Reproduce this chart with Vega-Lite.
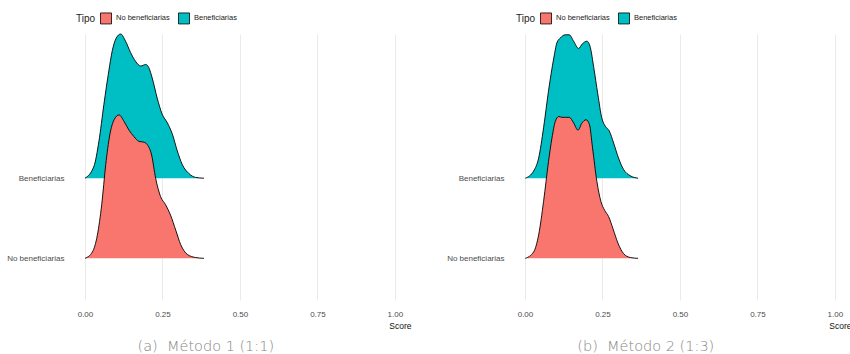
{
  "$schema": "https://vega.github.io/schema/vega-lite/v6.json",
  "padding": {"left": 6, "top": 12, "right": 0, "bottom": 0},
  "background": "white",
  "spacing": 35,
  "config": {
    "view": {"stroke": null},
    "font": "Liberation Sans",
    "axis": {
      "domain": false,
      "ticks": false,
      "gridColor": "#ebebeb",
      "gridWidth": 1,
      "labelColor": "#4d4d4d",
      "labelFontSize": 8,
      "labelFont": "Liberation Sans"
    },
    "legend": {
      "orient": "none",
      "legendX": 9,
      "legendY": -22,
      "direction": "horizontal",
      "titleOrient": "left",
      "titleFontSize": 10,
      "titleFontWeight": "normal",
      "titleColor": "#222222",
      "titlePadding": 4,
      "labelFontSize": 7.5,
      "labelColor": "#222222",
      "labelOffset": 4,
      "columnPadding": 6,
      "symbolType": "square",
      "symbolSize": 121,
      "symbolStrokeColor": "black",
      "symbolStrokeWidth": 0.8,
      "symbolOpacity": 1
    },
    "title": {
      "orient": "bottom",
      "anchor": "middle",
      "frame": "bounds",
      "font": "DejaVu Sans",
      "fontSize": 14.5,
      "fontWeight": 200,
      "color": "#858585",
      "offset": 10,
      "dx": -3
    }
  },
  "datasets": {
    "metodo1": [
      {"tipo": "Beneficiarias", "score": 0.0, "h": 0.0},
      {"tipo": "Beneficiarias", "score": 0.029, "h": 0.15},
      {"tipo": "Beneficiarias", "score": 0.045, "h": 0.46},
      {"tipo": "Beneficiarias", "score": 0.061, "h": 0.92},
      {"tipo": "Beneficiarias", "score": 0.077, "h": 1.34},
      {"tipo": "Beneficiarias", "score": 0.088, "h": 1.59},
      {"tipo": "Beneficiarias", "score": 0.101, "h": 1.75},
      {"tipo": "Beneficiarias", "score": 0.115, "h": 1.8},
      {"tipo": "Beneficiarias", "score": 0.131, "h": 1.71},
      {"tipo": "Beneficiarias", "score": 0.147, "h": 1.57},
      {"tipo": "Beneficiarias", "score": 0.163, "h": 1.46},
      {"tipo": "Beneficiarias", "score": 0.18, "h": 1.4},
      {"tipo": "Beneficiarias", "score": 0.196, "h": 1.42},
      {"tipo": "Beneficiarias", "score": 0.206, "h": 1.38},
      {"tipo": "Beneficiarias", "score": 0.217, "h": 1.25},
      {"tipo": "Beneficiarias", "score": 0.233, "h": 1.0},
      {"tipo": "Beneficiarias", "score": 0.249, "h": 0.8},
      {"tipo": "Beneficiarias", "score": 0.266, "h": 0.69},
      {"tipo": "Beneficiarias", "score": 0.282, "h": 0.55},
      {"tipo": "Beneficiarias", "score": 0.298, "h": 0.34},
      {"tipo": "Beneficiarias", "score": 0.314, "h": 0.17},
      {"tipo": "Beneficiarias", "score": 0.335, "h": 0.06},
      {"tipo": "Beneficiarias", "score": 0.357, "h": 0.01},
      {"tipo": "Beneficiarias", "score": 0.384, "h": 0.0},
      {"tipo": "No beneficiarias", "score": 0.0, "h": 0.0},
      {"tipo": "No beneficiarias", "score": 0.024, "h": 0.08},
      {"tipo": "No beneficiarias", "score": 0.04, "h": 0.29},
      {"tipo": "No beneficiarias", "score": 0.054, "h": 0.67},
      {"tipo": "No beneficiarias", "score": 0.067, "h": 1.17},
      {"tipo": "No beneficiarias", "score": 0.08, "h": 1.54},
      {"tipo": "No beneficiarias", "score": 0.094, "h": 1.73},
      {"tipo": "No beneficiarias", "score": 0.11, "h": 1.79},
      {"tipo": "No beneficiarias", "score": 0.126, "h": 1.71},
      {"tipo": "No beneficiarias", "score": 0.142, "h": 1.6},
      {"tipo": "No beneficiarias", "score": 0.158, "h": 1.52},
      {"tipo": "No beneficiarias", "score": 0.174, "h": 1.46},
      {"tipo": "No beneficiarias", "score": 0.19, "h": 1.45},
      {"tipo": "No beneficiarias", "score": 0.201, "h": 1.42},
      {"tipo": "No beneficiarias", "score": 0.215, "h": 1.29},
      {"tipo": "No beneficiarias", "score": 0.228, "h": 1.0},
      {"tipo": "No beneficiarias", "score": 0.244, "h": 0.77},
      {"tipo": "No beneficiarias", "score": 0.26, "h": 0.67},
      {"tipo": "No beneficiarias", "score": 0.276, "h": 0.54},
      {"tipo": "No beneficiarias", "score": 0.293, "h": 0.35},
      {"tipo": "No beneficiarias", "score": 0.309, "h": 0.17},
      {"tipo": "No beneficiarias", "score": 0.33, "h": 0.05},
      {"tipo": "No beneficiarias", "score": 0.357, "h": 0.01},
      {"tipo": "No beneficiarias", "score": 0.384, "h": 0.0}
    ],
    "metodo2": [
      {"tipo": "Beneficiarias", "score": 0.001, "h": 0.0},
      {"tipo": "Beneficiarias", "score": 0.028, "h": 0.09},
      {"tipo": "Beneficiarias", "score": 0.044, "h": 0.25},
      {"tipo": "Beneficiarias", "score": 0.06, "h": 0.63},
      {"tipo": "Beneficiarias", "score": 0.076, "h": 1.09},
      {"tipo": "Beneficiarias", "score": 0.093, "h": 1.5},
      {"tipo": "Beneficiarias", "score": 0.103, "h": 1.69},
      {"tipo": "Beneficiarias", "score": 0.114, "h": 1.75},
      {"tipo": "Beneficiarias", "score": 0.13, "h": 1.79},
      {"tipo": "Beneficiarias", "score": 0.143, "h": 1.79},
      {"tipo": "Beneficiarias", "score": 0.157, "h": 1.71},
      {"tipo": "Beneficiarias", "score": 0.173, "h": 1.62},
      {"tipo": "Beneficiarias", "score": 0.186, "h": 1.68},
      {"tipo": "Beneficiarias", "score": 0.2, "h": 1.71},
      {"tipo": "Beneficiarias", "score": 0.211, "h": 1.63},
      {"tipo": "Beneficiarias", "score": 0.222, "h": 1.38},
      {"tipo": "Beneficiarias", "score": 0.235, "h": 1.05},
      {"tipo": "Beneficiarias", "score": 0.248, "h": 0.75},
      {"tipo": "Beneficiarias", "score": 0.259, "h": 0.65},
      {"tipo": "Beneficiarias", "score": 0.272, "h": 0.59},
      {"tipo": "Beneficiarias", "score": 0.286, "h": 0.44},
      {"tipo": "Beneficiarias", "score": 0.302, "h": 0.25},
      {"tipo": "Beneficiarias", "score": 0.318, "h": 0.11},
      {"tipo": "Beneficiarias", "score": 0.34, "h": 0.03},
      {"tipo": "Beneficiarias", "score": 0.365, "h": 0.0},
      {"tipo": "No beneficiarias", "score": 0.001, "h": 0.0},
      {"tipo": "No beneficiarias", "score": 0.028, "h": 0.08},
      {"tipo": "No beneficiarias", "score": 0.044, "h": 0.29},
      {"tipo": "No beneficiarias", "score": 0.06, "h": 0.71},
      {"tipo": "No beneficiarias", "score": 0.076, "h": 1.21},
      {"tipo": "No beneficiarias", "score": 0.087, "h": 1.5},
      {"tipo": "No beneficiarias", "score": 0.098, "h": 1.71},
      {"tipo": "No beneficiarias", "score": 0.109, "h": 1.77},
      {"tipo": "No beneficiarias", "score": 0.119, "h": 1.76},
      {"tipo": "No beneficiarias", "score": 0.13, "h": 1.76},
      {"tipo": "No beneficiarias", "score": 0.143, "h": 1.76},
      {"tipo": "No beneficiarias", "score": 0.157, "h": 1.69},
      {"tipo": "No beneficiarias", "score": 0.171, "h": 1.6},
      {"tipo": "No beneficiarias", "score": 0.184, "h": 1.69},
      {"tipo": "No beneficiarias", "score": 0.197, "h": 1.73},
      {"tipo": "No beneficiarias", "score": 0.208, "h": 1.67},
      {"tipo": "No beneficiarias", "score": 0.218, "h": 1.38},
      {"tipo": "No beneficiarias", "score": 0.232, "h": 0.96},
      {"tipo": "No beneficiarias", "score": 0.245, "h": 0.71},
      {"tipo": "No beneficiarias", "score": 0.257, "h": 0.6},
      {"tipo": "No beneficiarias", "score": 0.27, "h": 0.52},
      {"tipo": "No beneficiarias", "score": 0.284, "h": 0.37},
      {"tipo": "No beneficiarias", "score": 0.3, "h": 0.19},
      {"tipo": "No beneficiarias", "score": 0.318, "h": 0.06},
      {"tipo": "No beneficiarias", "score": 0.34, "h": 0.01},
      {"tipo": "No beneficiarias", "score": 0.365, "h": 0.0}
    ]
  },
  "resolve": {"scale": {"color": "independent"}, "legend": {"color": "independent"}},
  "hconcat": [
    {
      "title": "(a)\u00a0\u00a0Método 1 (1:1)",
      "width": 344,
      "height": 266,
      "data": {"name": "metodo1"},
      "encoding": {
        "x": {
          "field": "score",
          "type": "quantitative",
          "scale": {"domain": [-0.058, 1.052], "nice": false, "zero": false},
          "axis": {"values": [0, 0.25, 0.5, 0.75, 1], "format": ".2f", "title": "Score", "titleAnchor": "end", "titleFontSize": 8.5, "titleFontWeight": "normal", "titleColor": "#111111", "titlePadding": 3, "labelPadding": 10}
        }
      },
      "layer": [
        {
          "transform": [{"filter": "datum.tipo == 'Beneficiarias'"}],
          "encoding": {
            "y": {"field": "h", "type": "quantitative", "scale": {"domain": [-1.52, 1.8], "nice": false, "zero": false}, "axis": null}
          },
          "layer": [
            {
              "mark": {"type": "area", "interpolate": "monotone", "opacity": 1},
              "encoding": {
                "y2": {"datum": 0},
                "color": {"field": "tipo", "type": "nominal", "title": "Tipo", "scale": {"domain": ["No beneficiarias", "Beneficiarias"], "range": ["#F8766D", "#00BFC4"]}}
              }
            },
            {
              "mark": {"type": "line", "interpolate": "monotone", "color": "black", "strokeWidth": 0.9},
              "encoding": {}
            }
          ]
        },
        {
          "transform": [{"filter": "datum.tipo == 'No beneficiarias'"}],
          "encoding": {
            "y": {"field": "h", "type": "quantitative", "scale": {"domain": [-0.52, 2.8], "nice": false, "zero": false},
              "axis": {"orient": "left", "values": [0, 1], "title": null, "labelPadding": 3, "labelExpr": "datum.value == 0 ? 'No beneficiarias' : 'Beneficiarias'"}}
          },
          "layer": [
            {
              "mark": {"type": "area", "interpolate": "monotone", "opacity": 1},
              "encoding": {
                "y2": {"datum": 0},
                "color": {"field": "tipo", "type": "nominal", "title": "Tipo", "scale": {"domain": ["No beneficiarias", "Beneficiarias"], "range": ["#F8766D", "#00BFC4"]}}
              }
            },
            {
              "mark": {"type": "line", "interpolate": "monotone", "color": "black", "strokeWidth": 0.9},
              "encoding": {}
            }
          ]
        }
      ],
      "resolve": {"scale": {"y": "independent"}, "axis": {"y": "independent"}}
    },
    {
      "title": "(b)\u00a0\u00a0Método 2 (1:3)",
      "width": 344,
      "height": 266,
      "data": {"name": "metodo2"},
      "encoding": {
        "x": {
          "field": "score",
          "type": "quantitative",
          "scale": {"domain": [-0.058, 1.052], "nice": false, "zero": false},
          "axis": {"values": [0, 0.25, 0.5, 0.75, 1], "format": ".2f", "title": "Score", "titleAnchor": "end", "titleFontSize": 8.5, "titleFontWeight": "normal", "titleColor": "#111111", "titlePadding": 3, "labelPadding": 10}
        }
      },
      "layer": [
        {
          "transform": [{"filter": "datum.tipo == 'Beneficiarias'"}],
          "encoding": {
            "y": {"field": "h", "type": "quantitative", "scale": {"domain": [-1.52, 1.8], "nice": false, "zero": false}, "axis": null}
          },
          "layer": [
            {
              "mark": {"type": "area", "interpolate": "monotone", "opacity": 1},
              "encoding": {
                "y2": {"datum": 0},
                "color": {"field": "tipo", "type": "nominal", "title": "Tipo", "scale": {"domain": ["No beneficiarias", "Beneficiarias"], "range": ["#F8766D", "#00BFC4"]}}
              }
            },
            {
              "mark": {"type": "line", "interpolate": "monotone", "color": "black", "strokeWidth": 0.9},
              "encoding": {}
            }
          ]
        },
        {
          "transform": [{"filter": "datum.tipo == 'No beneficiarias'"}],
          "encoding": {
            "y": {"field": "h", "type": "quantitative", "scale": {"domain": [-0.52, 2.8], "nice": false, "zero": false},
              "axis": {"orient": "left", "values": [0, 1], "title": null, "labelPadding": 3, "labelExpr": "datum.value == 0 ? 'No beneficiarias' : 'Beneficiarias'"}}
          },
          "layer": [
            {
              "mark": {"type": "area", "interpolate": "monotone", "opacity": 1},
              "encoding": {
                "y2": {"datum": 0},
                "color": {"field": "tipo", "type": "nominal", "title": "Tipo", "scale": {"domain": ["No beneficiarias", "Beneficiarias"], "range": ["#F8766D", "#00BFC4"]}}
              }
            },
            {
              "mark": {"type": "line", "interpolate": "monotone", "color": "black", "strokeWidth": 0.9},
              "encoding": {}
            }
          ]
        }
      ],
      "resolve": {"scale": {"y": "independent"}, "axis": {"y": "independent"}}
    }
  ]
}
